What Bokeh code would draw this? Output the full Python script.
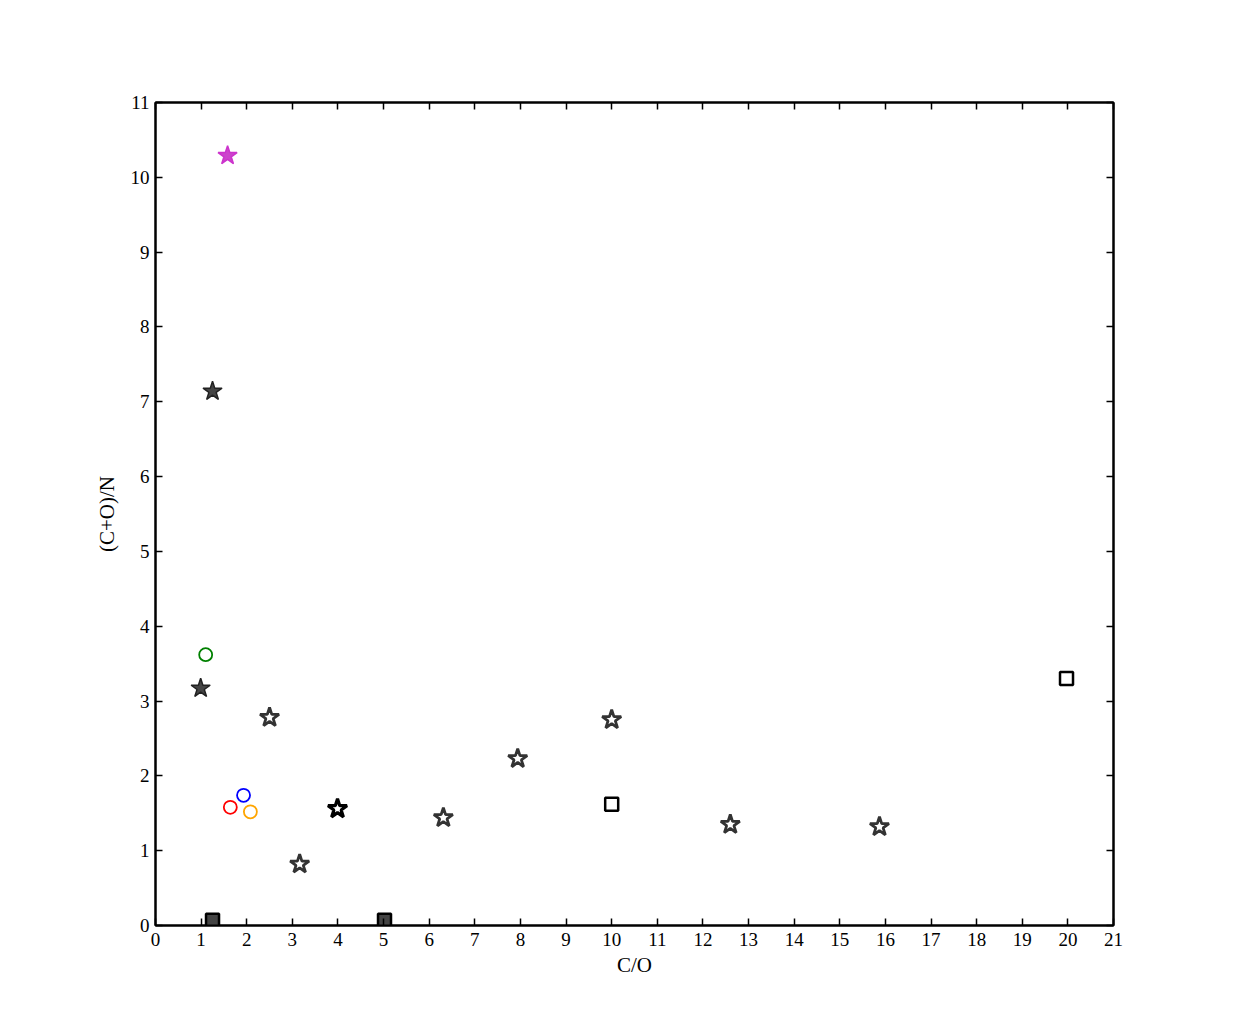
from bokeh.plotting import figure
from bokeh.models import Range1d, LinearAxis, FixedTicker
from bokeh.embed import file_html
from bokeh.resources import INLINE

# Data
filled_star_x = [1.25, 0.99]
filled_star_y = [7.14, 3.17]
magenta_star_x = [1.58]
magenta_star_y = [10.29]
open_star_x = [2.50, 3.16, 6.31, 7.94, 10.0, 12.60, 15.87]
open_star_y = [2.78, 0.82, 1.44, 2.23, 2.75, 1.35, 1.32]
black_star_x = [3.99]
black_star_y = [1.56]
circle_x = [1.10, 1.93, 1.64, 2.08]
circle_y = [3.62, 1.74, 1.58, 1.52]
circle_colors = ["green", "blue", "red", "orange"]
open_square_x = [10.0, 19.97]
open_square_y = [1.62, 3.30]
filled_square_x = [1.25, 5.02]
filled_square_y = [0.07, 0.07]
x_ticks = list(range(0, 22))
y_ticks = list(range(0, 12))

FONT = "Liberation Serif"

p = figure(width=1228, height=1018, output_backend="svg", toolbar_location=None,
           x_range=Range1d(0, 21), y_range=Range1d(0, 11),
           min_border_left=155, min_border_top=102, min_border_right=115, min_border_bottom=93)
p.grid.visible = False
p.outline_line_color = "black"
p.outline_line_width = 2

for ax in [p.xaxis[0], p.yaxis[0]]:
    ax.major_tick_in = 7
    ax.major_tick_out = 0
    ax.minor_tick_line_color = None
    ax.axis_line_width = 2
    ax.major_tick_line_width = 1.5
    ax.major_label_text_font = FONT
    ax.major_label_text_font_size = "19px"
    ax.major_label_text_color = "black"
    ax.axis_label_text_font = FONT
    ax.axis_label_text_font_size = "21px"
    ax.axis_label_text_font_style = "normal"
    ax.axis_label_text_color = "black"

p.xaxis.ticker = FixedTicker(ticks=x_ticks)
p.yaxis.ticker = FixedTicker(ticks=y_ticks)
p.xaxis.axis_label = "C/O"
p.yaxis.axis_label = "(C+O)/N"
p.xaxis.major_label_standoff = 7
p.yaxis.major_label_standoff = 6
p.xaxis.axis_label_standoff = 4
p.yaxis.axis_label_standoff = 9

empty_x = {t: "" for t in x_ticks}
empty_y = {t: "" for t in y_ticks}
top = LinearAxis(ticker=FixedTicker(ticks=x_ticks), major_label_overrides=empty_x,
                 major_tick_in=7, major_tick_out=0, minor_tick_line_color=None,
                 axis_line_width=2, major_tick_line_width=1.5, major_label_standoff=0)
right = LinearAxis(ticker=FixedTicker(ticks=y_ticks), major_label_overrides=empty_y,
                   major_tick_in=7, major_tick_out=0, minor_tick_line_color=None,
                   axis_line_width=2, major_tick_line_width=1.5, major_label_standoff=0)
p.add_layout(top, "above")
p.add_layout(right, "right")

p.scatter(filled_square_x, filled_square_y, marker="square", size=13,
          fill_color="#444444", line_color="black", line_width=2.5)
p.scatter(open_square_x, open_square_y, marker="square", size=13,
          fill_color="white", line_color="black", line_width=2.5)
p.scatter(circle_x, circle_y, marker="circle", size=13,
          fill_color="white", line_color=circle_colors, line_width=1.8)
p.scatter(open_star_x, open_star_y, marker="star", size=20,
          fill_color="white", line_color="#333333", line_width=2.8)
p.scatter(black_star_x, black_star_y, marker="star", size=20,
          fill_color="white", line_color="black", line_width=3.2)
p.scatter(filled_star_x, filled_star_y, marker="star", size=20,
          fill_color="#444444", line_color="#222222", line_width=1.5)
p.scatter(magenta_star_x, magenta_star_y, marker="star", size=20,
          fill_color="#cc44cc", line_color="#cc33cc", line_width=1.5)

open("out.html", "w").write(file_html(p, INLINE))
